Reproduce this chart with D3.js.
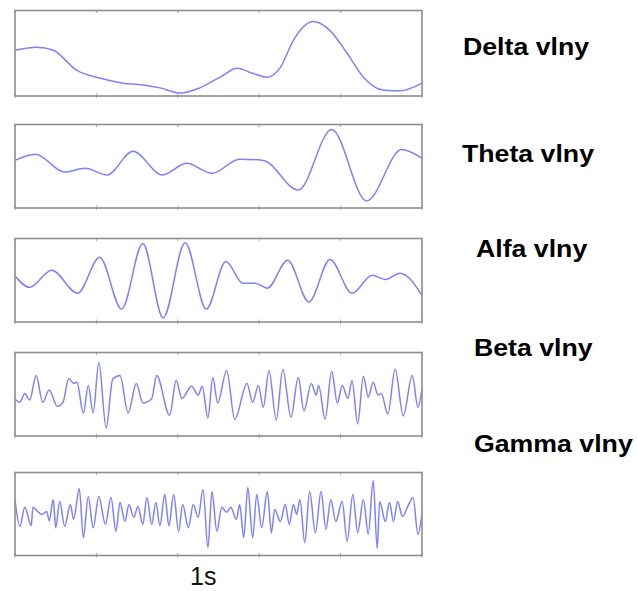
<!DOCTYPE html>
<html>
<head>
<meta charset="utf-8">
<script src="https://cdn.jsdelivr.net/npm/d3@7"></script>
<style>
  html, body { margin: 0; padding: 0; background: #fff; }
  svg { display: block; }
</style>
</head>
<body>
<svg id="chart" width="637" height="591"></svg>
<script>
// ---- data (time in s, amplitude in relative units -100..100) ----
const bandNames = ["Delta vlny", "Theta vlny", "Alfa vlny", "Beta vlny", "Gamma vlny"];
const timeTicks = [0, 1, 2, 3, 4, 5];
const scaleLabel = "1s";

const deltaT = [0, 0.27, 0.47, 0.76, 1.04, 1.33, 1.57, 1.78, 2.03, 2.27, 2.52, 2.73, 2.92, 3.10, 3.26, 3.42, 3.66, 3.87, 4.08, 4.28, 4.52, 4.73, 5.0];
const deltaV = [7, 14, 7, -40, -58, -70, -74, -81, -93, -81, -56, -35, -47, -56, -33, 30, 74, 53, 0, -56, -86, -88, -70];

const thetaT = [0, 0.25, 0.61, 0.86, 1.13, 1.45, 1.81, 2.11, 2.42, 2.76, 3.05, 3.48, 3.89, 4.32, 4.75, 5.0];
const thetaV = [14, 29, -14, -5, -21, 36, -21, 7, -17, 17, 14, -57, 88, -83, 40, 19];

const alfaT = [0, 0.18, 0.45, 0.77, 1.04, 1.31, 1.57, 1.82, 2.09, 2.35, 2.59, 2.80, 2.95, 3.10, 3.35, 3.61, 3.87, 4.14, 4.39, 4.55, 4.73, 5.0];
const alfaV = [10, -17, 24, -31, 55, -69, 88, -90, 90, -69, 45, -7, -7, -19, 48, -52, 50, -31, 12, 2, 17, -36];

const betaT = [0.00, 0.06, 0.12, 0.18, 0.26, 0.34, 0.42, 0.52, 0.59, 0.66, 0.72, 0.76, 0.84, 0.90, 0.96, 1.03, 1.12, 1.20, 1.29, 1.39, 1.49, 1.57, 1.68, 1.74, 1.90, 1.98, 2.05, 2.17, 2.25, 2.30, 2.37, 2.43, 2.49, 2.60, 2.70, 2.85, 2.92, 2.99, 3.05, 3.12, 3.21, 3.29, 3.39, 3.48, 3.55, 3.64, 3.70, 3.73, 3.81, 3.89, 3.96, 4.02, 4.09, 4.14, 4.21, 4.28, 4.34, 4.40, 4.46, 4.50, 4.58, 4.67, 4.77, 4.88, 4.95, 5.00];
const betaV = [-12, -19, 2, -14, 45, -19, 10, -29, -19, 38, 26, 29, -45, 21, -45, 76, -81, 36, 45, -45, 26, -21, -10, 45, -50, 33, -10, 19, -2, 19, -57, 40, -21, 57, -60, 26, -19, 21, -31, 57, -62, 60, -55, 40, -40, 26, -2, 21, -60, 55, -21, 21, -10, 33, -71, 43, -7, 29, -2, 2, -48, 60, -52, 45, -31, 14];

const gammaT = [0.00, 0.06, 0.12, 0.20, 0.22, 0.28, 0.33, 0.39, 0.42, 0.47, 0.50, 0.55, 0.61, 0.68, 0.72, 0.79, 0.84, 0.90, 0.96, 1.03, 1.11, 1.18, 1.24, 1.29, 1.35, 1.40, 1.46, 1.51, 1.57, 1.62, 1.68, 1.73, 1.78, 1.84, 1.89, 1.95, 2.01, 2.06, 2.13, 2.19, 2.25, 2.31, 2.37, 2.42, 2.48, 2.54, 2.60, 2.65, 2.72, 2.76, 2.81, 2.86, 2.92, 2.97, 3.03, 3.10, 3.15, 3.19, 3.26, 3.32, 3.37, 3.42, 3.46, 3.50, 3.56, 3.62, 3.69, 3.76, 3.82, 3.88, 3.94, 4.02, 4.08, 4.15, 4.21, 4.28, 4.34, 4.40, 4.45, 4.48, 4.55, 4.60, 4.65, 4.70, 4.76, 4.82, 4.89, 4.95, 5.00];
const gammaV = [35, -30, 16, -28, 16, 6, -1, 6, -16, 35, -33, 30, -30, 23, -13, 61, -57, 42, -33, 42, -25, 40, -42, 28, -18, 23, -8, 18, -25, 40, -25, 28, -28, 47, -28, 47, -42, 23, -33, 23, -8, 59, -81, 54, -42, 16, 4, 16, -13, 23, -57, 64, -57, 47, -33, 54, -45, 11, -18, 23, -25, 23, -1, 35, -69, 54, -45, 54, -37, 35, -18, 30, -66, 47, -45, 35, -49, 81, -83, 30, -18, 28, -18, 30, -6, 16, 40, -49, 1];

// ---- layout ----
const panels = [
  { t: deltaT, v: deltaV, top: 10.5, bottom: 96, lx: 463, ly: 55 },
  { t: thetaT, v: thetaV, top: 124.5, bottom: 208, lx: 462, ly: 162 },
  { t: alfaT, v: alfaV, top: 238.5, bottom: 322, lx: 476, ly: 257 },
  { t: betaT, v: betaV, top: 352.5, bottom: 436, lx: 474, ly: 355.5 },
  { t: gammaT, v: gammaV, top: 472.5, bottom: 555.5, lx: 474, ly: 452 }
];
const left = 15, right = 422;

const svg = d3.select("#chart");
const x = d3.scaleLinear().domain([0, 5]).range([left, right]);

panels.forEach((p, i) => {
  const y = d3.scaleLinear().domain([-100, 100]).range([p.bottom, p.top]);
  const g = svg.append("g");

  // tick marks (bottom outward + inward, top inward)
  g.selectAll("line.tb").data(timeTicks).enter().append("line")
    .attr("x1", d => x(d)).attr("x2", d => x(d))
    .attr("y1", p.bottom - 2.5).attr("y2", p.bottom + 2)
    .attr("stroke", "#a8a8a8").attr("stroke-width", 1);
  g.selectAll("line.tt").data(timeTicks).enter().append("line")
    .attr("x1", d => x(d)).attr("x2", d => x(d))
    .attr("y1", p.top).attr("y2", p.top + 2.5)
    .attr("stroke", "#a8a8a8").attr("stroke-width", 1);

  // waveform
  const pts = p.t.map((t, k) => [t, p.v[k]]);
  const line = d3.line()
    .x(d => x(d[0]))
    .y(d => y(d[1]))
    .curve(d3.curveMonotoneX);
  g.append("path")
    .datum(pts)
    .attr("d", line)
    .attr("fill", "none")
    .attr("stroke", "#8080ff")
    .attr("stroke-width", 1.5)
    .attr("stroke-linejoin", "round");

  // frame
  g.append("rect")
    .attr("x", left).attr("y", p.top)
    .attr("width", right - left).attr("height", p.bottom - p.top)
    .attr("fill", "none")
    .attr("stroke", "#8e8e8e")
    .attr("stroke-width", 1.6);

  // label
  svg.append("g")
    .attr("transform", `translate(${p.lx},${p.ly}) scale(1.09,1)`)
    .append("text")
    .attr("x", 0).attr("y", 0)
    .attr("font-family", "'Liberation Sans', Arial, sans-serif")
    .attr("font-weight", "bold")
    .attr("font-size", 24.5)
    .attr("fill", "#000")
    .text(bandNames[i]);
});

// time scale label
svg.append("text")
  .attr("x", 190).attr("y", 585)
  .attr("font-family", "'Liberation Sans', Arial, sans-serif")
  .attr("font-size", 25)
  .attr("fill", "#111")
  .text(scaleLabel);
</script>
</body>
</html>
